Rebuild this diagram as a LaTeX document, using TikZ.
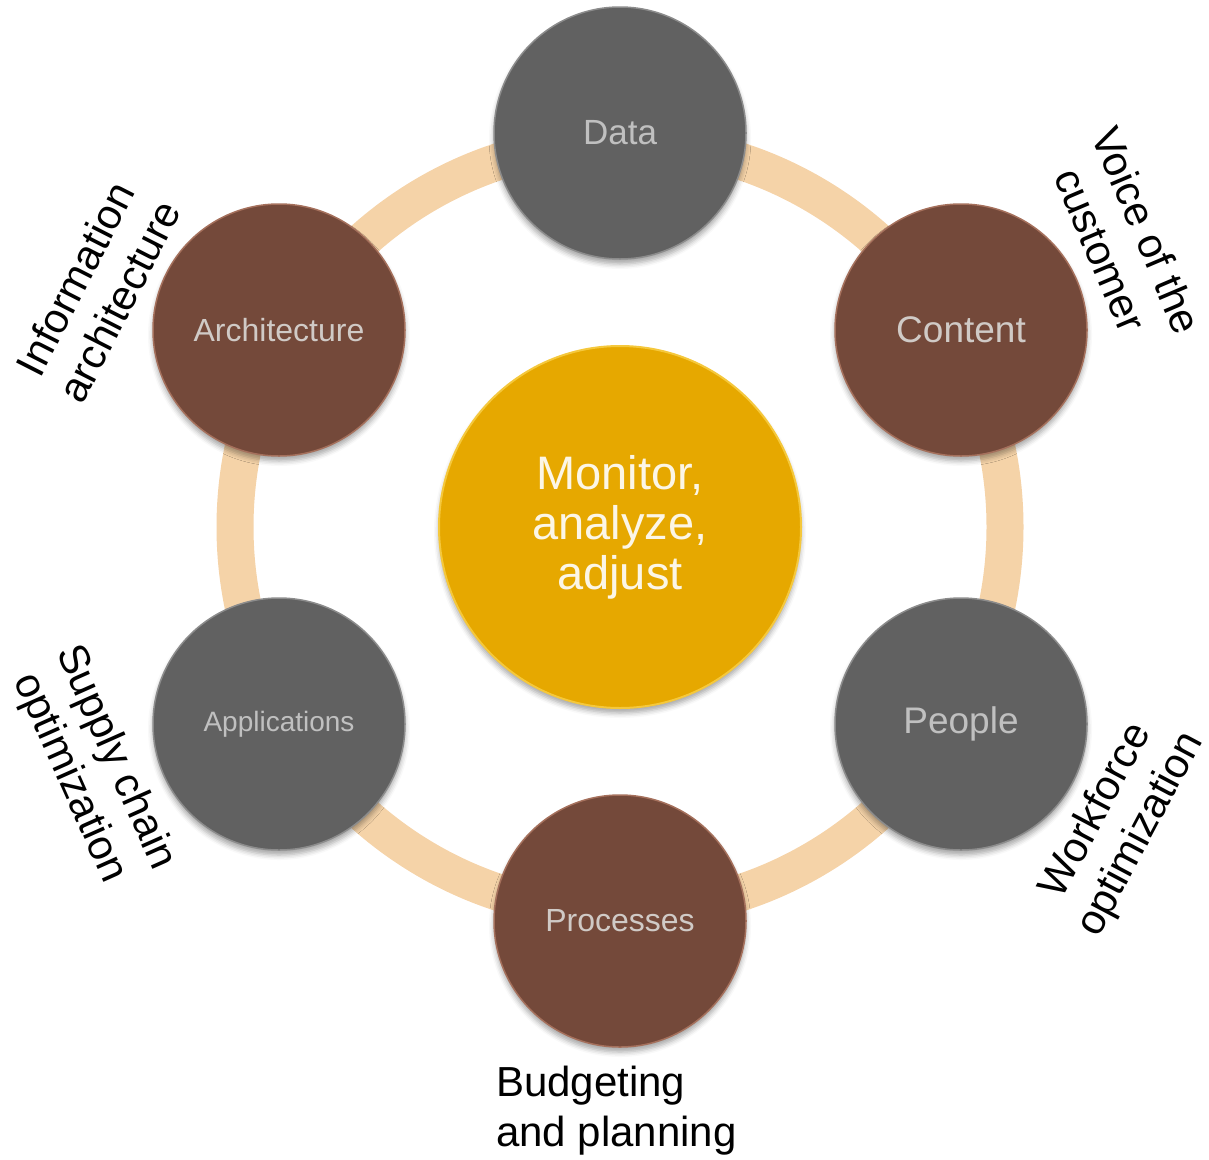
\documentclass[tikz,border=0pt]{standalone}
\usepackage{fontspec}
\setmainfont{Liberation Sans}
\usetikzlibrary{shadows.blur}
\definecolor{ringc}{RGB}{245,211,168}
\definecolor{grayc}{RGB}{97,97,97}
\definecolor{grayrim}{RGB}{140,140,140}
\definecolor{graytxt}{RGB}{192,192,192}
\definecolor{brownc}{RGB}{116,73,58}
\definecolor{brownrim}{RGB}{165,112,92}
\definecolor{browntxt}{RGB}{208,202,198}
\definecolor{goldc}{RGB}{230,168,0}
\definecolor{goldrim}{RGB}{245,200,60}
\definecolor{goldtxt}{RGB}{252,246,230}
\begin{document}
\begin{tikzpicture}[x=1pt,y=-1pt,
  sat/.style={circle, minimum size=252pt, inner sep=0pt, line width=1.5pt,
    blur shadow={shadow xshift=0pt, shadow yshift=-5pt, shadow blur radius=5pt, shadow opacity=35}},
  graysat/.style={sat, fill=grayc, draw=grayrim, text=graytxt},
  brownsat/.style={sat, fill=brownc, draw=brownrim, text=browntxt},
  lbl/.style={font=\fontsize{42}{50}\selectfont, align=center, text=black, inner sep=0pt}
]
\useasboundingbox (0,0) rectangle (1209,1159);
\coordinate (c) at (620,527);
\draw[ringc, line width=37pt] (c) circle[radius=385pt];

\node[circle, minimum size=362pt, inner sep=0pt, fill=goldc, draw=goldrim, line width=2pt,
  text=goldtxt, align=center, font=\fontsize{47}{50}\selectfont,
  blur shadow={shadow xshift=0pt, shadow yshift=-5pt, shadow blur radius=5pt, shadow opacity=35}]
  (center) at (c) {Monitor,\\analyze,\\adjust};

\node[graysat, font=\fontsize{35}{40}\selectfont] (data) at (620,133) {Data};
\node[brownsat, font=\fontsize{37}{42}\selectfont] (content) at (961,330) {Content};
\node[graysat, font=\fontsize{37}{42}\selectfont] (people) at (961,724) {People};
\node[brownsat, font=\fontsize{32}{36}\selectfont] (processes) at (620,921) {Processes};
\node[graysat, font=\fontsize{28}{32}\selectfont] (applications) at (279,724) {Applications};
\node[brownsat, font=\fontsize{32}{36}\selectfont] (architecture) at (279,330) {Architecture};

\node[lbl, rotate=63] (infoarch) at (97,290) {Information\\architecture};
\node[lbl, rotate=-67] (voice) at (1124,240) {Voice of the\\customer};
\node[lbl, rotate=-66] (supply) at (92,768) {Supply chain\\optimization};
\node[lbl, rotate=62] (workforce) at (1119,823) {Workforce\\optimization};
\node[lbl, align=left, anchor=west] (budget) at (496,1111) {Budgeting\\and planning};
\end{tikzpicture}
\end{document}
